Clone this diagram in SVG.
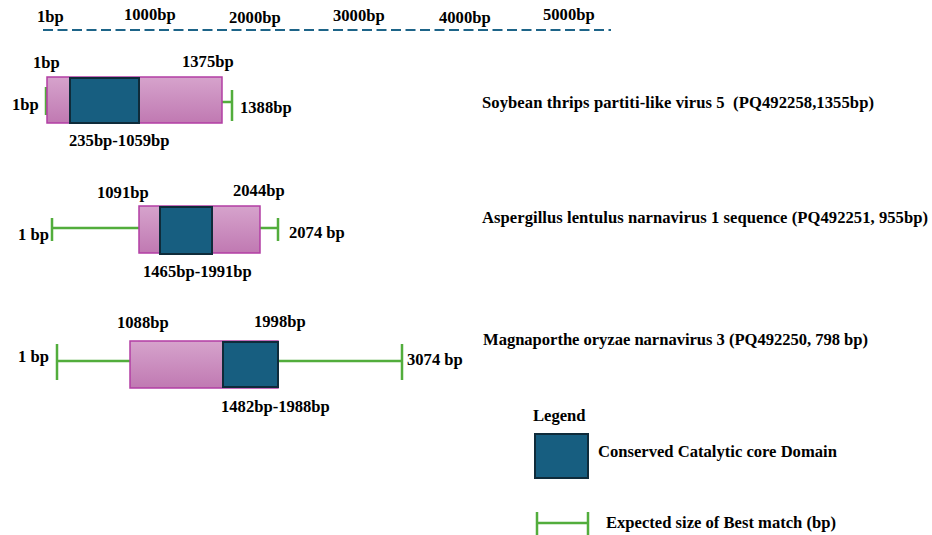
<svg xmlns="http://www.w3.org/2000/svg" width="932" height="535" viewBox="0 0 932 535">
  <defs>
    <linearGradient id="pinkFill" x1="0" y1="0" x2="0" y2="1">
      <stop offset="0" stop-color="#d6a3cc"/>
      <stop offset="1" stop-color="#c079b2"/>
    </linearGradient>
  </defs>
  <style>
    text { font-family: "Liberation Serif", "Times New Roman", serif; font-weight: bold; font-size: 16.6px; fill: #000; }
    .pre { white-space: pre; }
    .seq { fill: url(#pinkFill); stroke: #b23ea4; stroke-width: 1.5; }
    .core { fill: #175e80; stroke: #0f2b3a; stroke-width: 2; }
    .span { stroke: #52ad3c; stroke-width: 2.5; fill: none; }
    .axis { stroke: #1d6488; stroke-width: 2; stroke-dasharray: 10 4.5; fill: none; }
  </style>
  <rect width="932" height="535" fill="#fff"/>

  <!-- scale axis -->
  <g id="axis">
    <line class="axis" x1="43" y1="30" x2="611" y2="30"/>
    <text x="37" y="22">1bp</text>
    <text x="124" y="20">1000bp</text>
    <text x="229" y="23">2000bp</text>
    <text x="333" y="21">3000bp</text>
    <text x="439" y="23">4000bp</text>
    <text x="543" y="20">5000bp</text>
  </g>

  <!-- expected-size spans -->
  <g id="connectors">
    <line class="span" x1="46" y1="87" x2="46" y2="115" stroke-width="1.5"/>
    <path class="span" d="M222 102H232M232 90V121"/>
    <path class="span" d="M52 218V241M52 228H139M260 228H278M278 218V241"/>
    <path class="span" d="M57 344V380M57 361H130M278 361H402M402 344V380"/>
  </g>

  <!-- Soybean thrips partiti-like virus 5 -->
  <g id="seq1">
    <rect class="seq" x="47" y="77" width="175" height="46"/>
    <rect class="core" x="70" y="78" width="69" height="45"/>
    <text x="33" y="68">1bp</text>
    <text x="182" y="67">1375bp</text>
    <text x="12" y="110">1bp</text>
    <text x="240" y="113">1388bp</text>
    <text x="69" y="146">235bp-1059bp</text>
    <text class="pre" x="482" y="108" textLength="392">Soybean thrips partiti-like virus 5  (PQ492258,1355bp)</text>
  </g>

  <!-- Aspergillus lentulus narnavirus 1 -->
  <g id="seq2">
    <rect class="seq" x="139" y="206" width="121" height="47"/>
    <rect class="core" x="160" y="207" width="52" height="47"/>
    <text x="97" y="198">1091bp</text>
    <text x="233" y="196">2044bp</text>
    <text x="18" y="240">1 bp</text>
    <text x="289" y="238">2074 bp</text>
    <text x="143" y="277">1465bp-1991bp</text>
    <text x="482" y="223" textLength="446">Aspergillus lentulus narnavirus 1 sequence (PQ492251, 955bp)</text>
  </g>

  <!-- Magnaporthe oryzae narnavirus 3 -->
  <g id="seq3">
    <rect class="seq" x="130" y="341" width="148" height="47"/>
    <rect class="core" x="223" y="342" width="55" height="45"/>
    <text x="117" y="328">1088bp</text>
    <text x="254" y="327">1998bp</text>
    <text x="18" y="362">1 bp</text>
    <text x="407" y="365">3074 bp</text>
    <text x="221" y="412">1482bp-1988bp</text>
    <text x="483" y="345" textLength="385">Magnaporthe oryzae narnavirus 3 (PQ492250, 798 bp)</text>
  </g>

  <!-- legend -->
  <g id="legend">
    <text x="533" y="421">Legend</text>
    <rect class="core" x="535" y="434" width="53" height="44"/>
    <text x="598" y="457">Conserved Catalytic core Domain</text>
    <path class="span" d="M537 512V535M537 523H588M588 512V535"/>
    <text x="606" y="528">Expected size of Best match (bp)</text>
  </g>
</svg>
